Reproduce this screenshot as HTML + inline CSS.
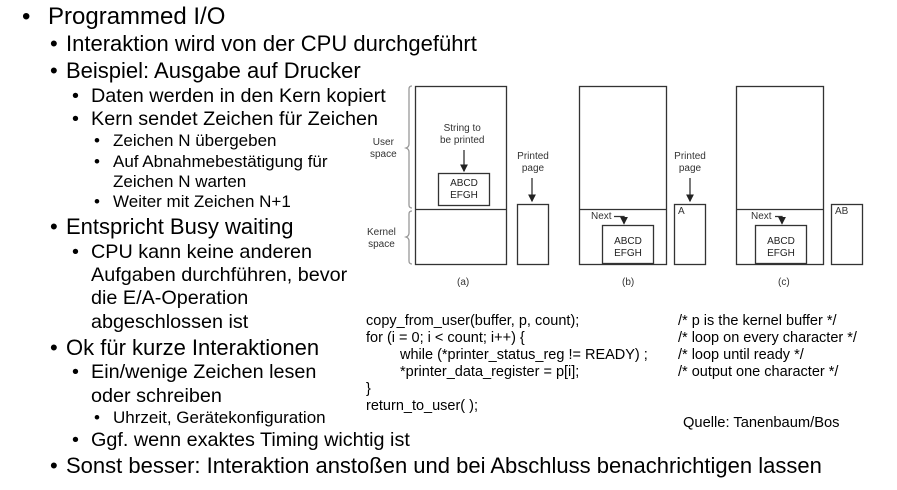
<!DOCTYPE html>
<html><head><meta charset="utf-8"><style>
body{margin:0;width:897px;height:490px;background:#fff;position:relative;overflow:hidden;font-family:"Liberation Sans",Arial,sans-serif;color:#000}
.t{position:absolute;white-space:nowrap;height:30px;line-height:30px}
.l1{font-size:24px}.l2{font-size:22px}.l3{font-size:19.8px}.l4{font-size:17px}
.s{position:absolute;font-size:10px;color:#333;text-align:center;line-height:12px;white-space:nowrap}
.c{position:absolute;font-size:14.5px;white-space:nowrap;line-height:18px}
</style></head><body>
<div class="t l1" style="left:22px;top:2px">•</div><div class="t l1" style="left:48px;top:2px">Programmed I/O</div>
<div class="t l2" style="left:50px;top:29px">•</div><div class="t l2" style="left:66px;top:29px">Interaktion wird von der CPU durchgeführt</div>
<div class="t l2" style="left:50px;top:56px">•</div><div class="t l2" style="left:66px;top:56px">Beispiel: Ausgabe auf Drucker</div>
<div class="t l3" style="left:72px;top:81px">•</div><div class="t l3" style="left:91px;top:81px">Daten werden in den Kern kopiert</div>
<div class="t l3" style="left:72px;top:104px">•</div><div class="t l3" style="left:91px;top:104px">Kern sendet Zeichen für Zeichen</div>
<div class="t l4" style="left:94px;top:126px">•</div><div class="t l4" style="left:113px;top:126px">Zeichen N übergeben</div>
<div class="t l4" style="left:94px;top:147px">•</div><div class="t l4" style="left:113px;top:147px">Auf Abnahmebestätigung für</div>
<div class="t l4" style="left:113px;top:167px">Zeichen N warten</div>
<div class="t l4" style="left:94px;top:187px">•</div><div class="t l4" style="left:113px;top:187px">Weiter mit Zeichen N+1</div>
<div class="t l2" style="left:50px;top:212px">•</div><div class="t l2" style="left:66px;top:212px">Entspricht Busy waiting</div>
<div class="t l3" style="left:72px;top:237px">•</div><div class="t l3" style="left:91px;top:237px">CPU kann keine anderen</div>
<div class="t l3" style="left:91px;top:260px">Aufgaben durchführen, bevor</div>
<div class="t l3" style="left:91px;top:283px">die E/A-Operation</div>
<div class="t l3" style="left:91px;top:307px">abgeschlossen ist</div>
<div class="t l2" style="left:50px;top:333px">•</div><div class="t l2" style="left:66px;top:333px">Ok für kurze Interaktionen</div>
<div class="t l3" style="left:72px;top:357px">•</div><div class="t l3" style="left:91px;top:357px">Ein/wenige Zeichen lesen</div>
<div class="t l3" style="left:91px;top:381px">oder schreiben</div>
<div class="t l4" style="left:94px;top:403px">•</div><div class="t l4" style="left:113px;top:403px">Uhrzeit, Gerätekonfiguration</div>
<div class="t l3" style="left:72px;top:425px">•</div><div class="t l3" style="left:91px;top:425px">Ggf. wenn exaktes Timing wichtig ist</div>
<div class="t l2" style="left:50px;top:451px">•</div><div class="t l2" style="left:66px;top:451px">Sonst besser: Interaktion anstoßen und bei Abschluss benachrichtigen lassen</div>

<svg width="897" height="490" style="position:absolute;left:0;top:0" fill="none" stroke="#333" stroke-width="1.3">
<defs><marker id="a" markerWidth="6" markerHeight="6" refX="5" refY="3" orient="auto"><path d="M0,0L6,3L0,6z" fill="#222" stroke="none"/></marker></defs>
<path d="M412,86 q-3,0 -3,3 v55 q0,3 -3,4 q3,1 3,4 v53 q0,3 3,3" stroke="#999"/>
<path d="M412,211 q-3,0 -3,3 v19 q0,3 -3,4 q3,1 3,4 v20 q0,3 3,3" stroke="#999"/>
<rect x="415.5" y="86.5" width="91" height="178"/><line x1="415" y1="209.5" x2="507" y2="209.5"/>
<rect x="438.5" y="173.5" width="51" height="32"/>
<line x1="464" y1="150" x2="464" y2="171" marker-end="url(#a)"/>
<rect x="517.5" y="204.5" width="31" height="60"/>
<line x1="532" y1="178" x2="532" y2="201" marker-end="url(#a)"/>
<rect x="579.5" y="86.5" width="87" height="178"/><line x1="579" y1="209.5" x2="667" y2="209.5"/>
<rect x="602.5" y="225.5" width="51" height="38"/>
<path d="M614,216.5h10v7" marker-end="url(#a)"/>
<rect x="674.5" y="204.5" width="31" height="60"/>
<line x1="690" y1="178" x2="690" y2="201" marker-end="url(#a)"/>
<rect x="736.5" y="86.5" width="87" height="178"/><line x1="736" y1="209.5" x2="824" y2="209.5"/>
<rect x="755.5" y="225.5" width="51" height="38"/>
<path d="M775,216.5h7v7" marker-end="url(#a)"/>
<rect x="831.5" y="204.5" width="31" height="60"/>
</svg>
<div class="s" style="left:370px;top:137px">User<br>space</div>
<div class="s" style="left:367px;top:227px">Kernel<br>space</div>
<div class="s" style="left:440px;top:123px">String to<br>be printed</div>
<div class="s" style="left:438px;top:178px;width:52px;color:#222">ABCD<br>EFGH</div>
<div class="s" style="left:512px;top:151px;width:42px">Printed<br>page</div>
<div class="s" style="left:669px;top:151px;width:42px">Printed<br>page</div>
<div class="s" style="left:602px;top:236px;width:52px;color:#222">ABCD<br>EFGH</div>
<div class="s" style="left:755px;top:236px;width:52px;color:#222">ABCD<br>EFGH</div>
<div class="s" style="left:591px;top:211px">Next</div>
<div class="s" style="left:751px;top:211px">Next</div>
<div class="s" style="left:678px;top:206px">A</div>
<div class="s" style="left:835px;top:206px">AB</div>
<div class="s" style="left:457px;top:277px">(a)</div>
<div class="s" style="left:622px;top:277px">(b)</div>
<div class="s" style="left:778px;top:277px">(c)</div>
<div class="c" style="left:366px;top:312px">copy_from_user(buffer, p, count);</div>
<div class="c" style="left:366px;top:329px">for (i = 0; i &lt; count; i++) {</div>
<div class="c" style="left:400px;top:346px">while (*printer_status_reg != READY) ;</div>
<div class="c" style="left:400px;top:363px">*printer_data_register = p[i];</div>
<div class="c" style="left:366px;top:380px">}</div>
<div class="c" style="left:366px;top:397px">return_to_user( );</div>
<div class="c" style="left:678px;top:312px">/* p is the kernel buffer */</div>
<div class="c" style="left:678px;top:329px">/* loop on every character */</div>
<div class="c" style="left:678px;top:346px">/* loop until ready */</div>
<div class="c" style="left:678px;top:363px">/* output one character */</div>
<div class="c" style="left:683px;top:414px;font-size:14.7px">Quelle: Tanenbaum/Bos</div>
</body></html>
